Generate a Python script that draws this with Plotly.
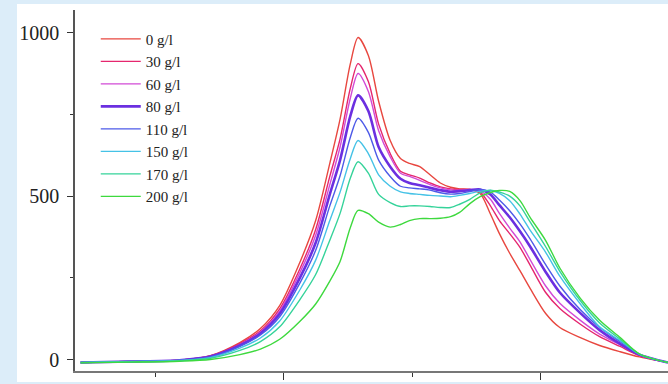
import plotly.graph_objects as go

# x positions (arbitrary channel units; tick marks at 1, 2, 3, 4)
x_vals = [0.42, 0.81, 1.19, 1.43, 1.66, 1.82, 1.97, 2.13, 2.25, 2.36, 2.44, 2.52, 2.58,
          2.66, 2.74, 2.83, 2.91, 2.98, 3.06, 3.14, 3.22, 3.30, 3.37, 3.45, 3.53,
          3.61, 3.68, 3.76, 3.84, 3.92, 4.04, 4.15, 4.31, 4.46, 4.62, 4.77, 4.99]

series_names = ["0 g/l", "30 g/l", "60 g/l", "80 g/l", "110 g/l", "150 g/l", "170 g/l", "200 g/l"]

y_0 = [-9, -6, -2, 12, 52, 95, 165, 300, 425, 600, 735, 905, 985,
       930, 790, 670, 615, 600, 590, 565, 540, 527, 522, 520, 508,
       445, 385, 325, 272, 217, 141, 98, 67, 43, 24, 8, -9]
y_30 = [-9, -6, -2, 11, 49, 88, 155, 280, 398, 560, 675, 830, 905,
        850, 720, 630, 576, 565, 555, 540, 528, 522, 520, 520, 512,
        470, 425, 385, 343, 288, 205, 156, 108, 70, 40, 12, -9]
y_60 = [-9, -6, -2, 10, 46, 84, 148, 268, 380, 535, 650, 800, 875,
        820, 700, 620, 570, 560, 548, 535, 525, 519, 518, 520, 516,
        490, 447, 402, 360, 305, 225, 172, 120, 78, 45, 14, -9]
y_80 = [-9, -6, -2, 9, 43, 80, 140, 252, 357, 505, 610, 745, 808,
        760, 650, 590, 553, 540, 533, 525, 518, 513, 515, 518, 520,
        505, 472, 435, 392, 345, 268, 205, 142, 90, 48, 15, -9]
y_110 = [-9, -6, -2, 8, 40, 75, 131, 236, 334, 470, 562, 680, 738,
         695, 610, 560, 530, 525, 522, 518, 510, 506, 508, 514, 520,
         512, 488, 455, 415, 368, 290, 225, 152, 98, 55, 16, -9]
y_150 = [-9, -6, -3, 6, 35, 66, 118, 215, 304, 425, 512, 615, 670,
         630, 565, 530, 513, 508, 505, 502, 500, 498, 502, 508, 515,
         517, 508, 486, 445, 395, 328, 255, 170, 100, 58, 16, -9]
y_170 = [-9, -7, -4, 4, 28, 55, 100, 185, 260, 365, 447, 555, 605,
         570, 505, 480, 468, 470, 470, 468, 465, 465, 475, 490, 510,
         518, 512, 500, 470, 420, 345, 270, 180, 112, 62, 17, -9]
y_200 = [-10, -8, -5, 0, 15, 32, 62, 118, 170, 240, 300, 404, 456,
         446, 420, 405, 413, 425, 431, 431, 432, 437, 450, 477, 498,
         511, 517, 514, 486, 434, 364, 280, 187, 120, 67, 17, -9]

series_values = [y_0, y_30, y_60, y_80, y_110, y_150, y_170, y_200]
series_colors = ["#e8473f", "#e5266e", "#d24ad6", "#6b2fe0", "#4d5ae8",
                 "#45c2e6", "#35d39a", "#3ed93e"]
series_widths = [1.4, 1.4, 1.4, 2.6, 1.4, 1.4, 1.4, 1.4]

y_tickvals = [0, 500, 1000]
y_ticktext = ["0", "500", "1000"]

fig = go.Figure()
for name, vals, col, w in zip(series_names, series_values, series_colors, series_widths):
    fig.add_trace(go.Scatter(x=x_vals, y=vals, mode="lines", name=name,
                             line=dict(color=col, width=w, shape="spline", smoothing=0.8)))

serif = "Liberation Serif"
fig.update_layout(
    width=668, height=384,
    margin=dict(l=75, r=0, t=10, b=13),
    paper_bgcolor="#dcedf9",
    plot_bgcolor="white",
    showlegend=True,
    legend=dict(x=0.035, y=0.965, xanchor="left", yanchor="top",
                bgcolor="rgba(0,0,0,0)", itemwidth=40,
                font=dict(family=serif, size=15, color="#222")),
    shapes=[dict(type="rect", xref="paper", yref="paper",
                 x0=(17 - 75) / 593, x1=1.0, y0=-(382 - 371) / 361, y1=1 + (10 - 4) / 361,
                 fillcolor="white", line=dict(width=0), layer="below")],
)
fig.update_xaxes(range=[0.377, 4.992], showgrid=False, zeroline=False,
                 showline=True, linecolor="#777", linewidth=2,
                 tickvals=[2, 4], ticks="outside", ticklen=7, tickcolor="#333", tickwidth=1,
                 showticklabels=False,
                 minor=dict(tickvals=[1, 3], ticks="outside", ticklen=4, tickcolor="#333"))
fig.update_yaxes(range=[-35, 1069], showgrid=False, zeroline=False,
                 showline=True, linecolor="#555", linewidth=1.5,
                 tickvals=y_tickvals, ticktext=y_ticktext, ticks="outside", ticklen=6,
                 tickcolor="#333", tickwidth=1, ticklabelstandoff=4,
                 tickfont=dict(family=serif, size=20, color="#222"),
                 minor=dict(tickvals=[250, 750], ticks="outside", ticklen=3, tickcolor="#333"))

fig.write_html("out.html", config={"displayModeBar": False},
               post_script="document.body.style.margin='0';")
